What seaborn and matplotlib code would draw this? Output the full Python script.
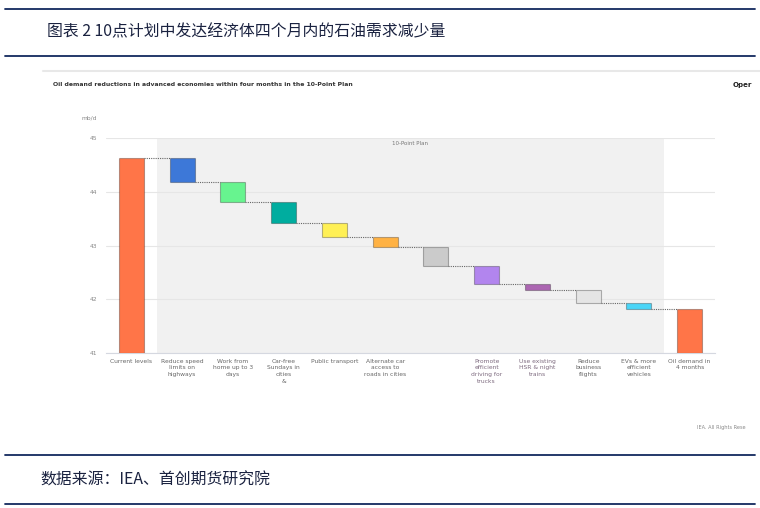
import numpy as np
import pandas as pd
import matplotlib
matplotlib.use("Agg")
import matplotlib.pyplot as plt
import seaborn as sns

# ---------------- data ----------------
categories = [
    "Current levels",
    "Reduce speed\nlimits on\nhighways",
    "Work from\nhome up to 3\ndays",
    "Car-free\nSundays in\ncities\n&",
    "Public transport",
    "Alternate car\naccess to\nroads in cities",
    "",
    "Promote\nefficient\ndriving for\ntrucks",
    "Use existing\nHSR & night\ntrains",
    "Reduce\nbusiness\nflights",
    "EVs & more\nefficient\nvehicles",
    "Oil demand in\n4 months",
]
current_level = 44.62
reductions = [0.43, 0.38, 0.39, 0.27, 0.17, 0.37, 0.32, 0.11, 0.25, 0.12]
y_ticks = [41, 42, 43, 44, 45]
bar_colors = ["#FF7548", "#3D78D8", "#67F48F", "#00AD9F", "#FFF055", "#FFB244",
              "#CBCBCB", "#B285EE", "#AC66B2", "#E5E5E5", "#4BD5F7", "#FF7548"]
label_colors = ["#666666"] * 7 + ["#7d6a7f", "#7d6a7f"] + ["#666666"] * 3

title_cn = "图表 2 10点计划中发达经济体四个月内的石油需求减少量"
source_cn = "数据来源：IEA、首创期货研究院"
chart_title = "Oil demand reductions in advanced economies within four months in the 10-Point Plan"

# ---------------- derived waterfall table ----------------
base = y_ticks[0]
levels = [current_level]
for r in reductions:
    levels.append(levels[-1] - r)
final_level = levels[-1]
bottoms = [base] + levels[1:] + [base]
heights = [current_level - base] + reductions + [final_level - base]
df = pd.DataFrame({"step": categories, "height": heights, "bottom": bottoms})

# ---------------- figure ----------------
sns.set_theme(style="white")
plt.rcParams["font.family"] = ["DejaVu Sans"]
W, H = 760, 508
fig = plt.figure(figsize=(W / 100, H / 100), dpi=100)

def fx(px):
    return px / W

def fy(py):
    return 1 - py / H

ax = fig.add_axes([fx(106), fy(353), (715 - 106) / W, (353 - 138) / H])

bw = 0.49
sns.barplot(data=df, x="step", y="height", order=categories, width=bw,
            bottom=df["bottom"].values, color=bar_colors[0], errorbar=None,
            ax=ax, zorder=3)
for patch, c in zip(ax.patches, bar_colors):
    patch.set_facecolor(c)
    patch.set_edgecolor((0, 0, 0, 0.28))
    patch.set_linewidth(0.8)

# connectors
conn_levels = [current_level] + levels[1:]
for i in range(len(categories) - 1):
    ax.plot([i + bw / 2, i + 1 - bw / 2], [conn_levels[i], conn_levels[i]],
            color="#666666", lw=0.8, ls=(0, (1, 1)), zorder=4)

# 10-Point Plan band
ax.axvspan(0.5, 10.5, color="#F1F1F1", zorder=0, lw=0)
ax.text(5.5, 44.9, "10-Point Plan", ha="center", va="center",
        fontsize=4.0, color="#777777", zorder=5)

ax.set_xlim(-0.5, len(categories) - 0.5)
ax.set_ylim(y_ticks[0], y_ticks[-1])
ax.set_yticks(y_ticks)
ax.set_yticklabels([str(t) for t in y_ticks], fontsize=4.3, color="#888888")
ax.yaxis.grid(True, color="#E6E6E6", lw=0.8)
ax.set_axisbelow(True)
ax.set_xticks(range(len(categories)))
ax.set_xticklabels(categories, fontsize=4.3, linespacing=1.42)
for lab, c in zip(ax.get_xticklabels(), label_colors):
    lab.set_color(c)
    lab.set_va("top")
ax.set_xticks(np.arange(-0.5, len(categories), 1), minor=True)
ax.tick_params(axis="x", which="major", length=0, pad=4)
ax.tick_params(axis="x", which="minor", length=3.5, width=0.8, color="#888888")
ax.tick_params(axis="y", length=0, pad=6.5)
ax.set_xlabel("")
ax.set_ylabel("")
for s in ["top", "right", "left"]:
    ax.spines[s].set_visible(False)
ax.spines["bottom"].set_color("#D5D8E0")
ax.spines["bottom"].set_linewidth(0.8)
ax.patch.set_alpha(0)

# inner chart texts
fig.text(fx(97), fy(118), "mb/d", ha="right", va="center", fontsize=4.3, color="#888888")
fig.text(fx(53), fy(85), chart_title, ha="left", va="center", fontsize=4.4,
         fontweight="bold", color="#333333")
fig.text(fx(733), fy(85), "Oper", ha="left", va="center", fontsize=5,
         fontweight="bold", color="#222222")
fig.text(fx(697), fy(427), "IEA. All Rights Rese", ha="left", va="center",
         fontsize=3.6, color="#888888")

# image top border
fig.add_artist(plt.Line2D([fx(43), fx(760)], [fy(71), fy(71)], color="#E8E8E8", lw=1.5))

# document frame lines
navy = "#13295E"
for yy in [8.5, 56, 455, 503.5]:
    fig.add_artist(plt.Line2D([fx(5), fx(755)], [fy(yy), fy(yy)], color=navy, lw=1.3))

cjk = ["Noto Sans CJK SC", "DejaVu Sans"]
fig.text(fx(47), fy(32), title_cn, ha="left", va="center", fontsize=11.4,
         family=cjk, color="#1a2240")
fig.text(fx(40), fy(480), source_cn, ha="left", va="center", fontsize=11.4,
         family=cjk, color="#1a2240")

fig.savefig("out.png", dpi=100)
